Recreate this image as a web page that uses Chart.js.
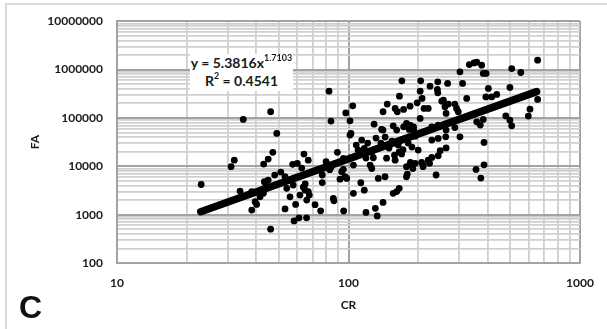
<!DOCTYPE html>
<html><head><meta charset="utf-8">
<script src="https://cdn.jsdelivr.net/npm/chart.js@4/dist/chart.umd.min.js"></script>
<style>
html,body{margin:0;padding:0;background:#fff;}
#wrap{position:relative;width:607px;height:329px;overflow:hidden;background:#fff;}
#frame{position:absolute;left:5px;top:3px;width:700px;height:400px;border-top:2px solid #dadada;border-left:2px solid #dadada;}
#cv{position:absolute;left:0;top:0;}
#eq{position:absolute;left:190px;top:54px;width:103px;height:37px;background:#fff;font-family:Lato,sans-serif;font-weight:bold;font-size:14px;line-height:18px;text-align:center;color:#1a1a1a;white-space:nowrap;}
#eq sup{font-size:9px;line-height:0;position:relative;top:-1px;}
#letter{position:absolute;left:19px;top:291px;font-family:"Liberation Sans",Arial,sans-serif;font-weight:bold;font-size:32px;line-height:32px;color:#111;}
</style></head>
<body>
<div id="wrap">
<div id="frame"></div>
<canvas id="cv" width="607" height="329"></canvas>
<div id="eq">y = 5.3816x<sup>1.7103</sup><br>R<sup>2</sup> = 0.4541</div>
<div id="letter">C</div>
</div>
<script>
// ---- data ----
const xAxisTitle = 'CR';
const yAxisTitle = 'FA';
const xTickValues = [10,20,30,40,50,60,70,80,90,100,200,300,400,500,600,700,800,900,1000];
const yTickValues = [100,200,300,400,500,600,700,800,900,
  1000,2000,3000,4000,5000,6000,7000,8000,9000,
  10000,20000,30000,40000,50000,60000,70000,80000,90000,
  100000,200000,300000,400000,500000,600000,700000,800000,900000,
  1000000,2000000,3000000,4000000,5000000,6000000,7000000,8000000,9000000,
  10000000];
const xTickLabels = ['10','100','1000'];
const yTickLabels = ['100','1000','10000','100000','1000000','10000000'];

const crValues = [35.1,46.1,49,47.1,45,43,32.1,31.1,57.4,60.1,64.2,67,62.8,23.1,34,38.2,38.2,40.1,41.5,42.9,
  43.6,45,46.1,53.2,55.9,54.1,58.2,61.1,65.9,59.1,61.7,57.7,53.2,65,71.7,75.8,66,67.7,67,63.8,
  65,77,77,86,86.5,95.3,91.9,96.6,98.3,93.5,95,105,113,117,119,130.6,133,141,134.5,143.8,
  126,124,156,161.5,165.6,178,179.5,178,187,194,210,224,239,355.6,385,373,385,128,146,159,
  165.6,172,169.6,185,189.6,207,210,221,229,244,249,264,229,244,303,82.4,84,97.3,104.3,101.5,
  102.5,332.6,303,311,324,268,243,225,242,243,205,204,208,212,221,253,257,270,288,293,
  298,170,166,147,141,159,162.5,173,184.5,198,204,129,139,141,156,161.5,173,178,184.5,191,
  183,191,229,244,264,288,656,348.5,358,376,382,393,507,555,402,392,415.6,437,498,656,
  608,598,478,498,507,358,371,382,89.5,101.5,108,95,117,261,264,263,110,114,121,126,
  131.5,138,144,149.6,154,164,172,181,194,188,119,158,200,80,84,88,83,43.3,39.5,48,
  51,105];
const faValues = [93000,134000,47800,19400,14100,11100,13400,9800,11000,11500,17900,13400,9200,4200,3070,3000,1240,1630,2340,2760,
  4560,5190,500,1310,2340,3500,740,860,860,1630,2540,4090,6070,4300,1610,1200,2000,2540,3000,3700,
  3200,4600,6600,2170,1930,1190,5400,6070,5600,7700,8600,2760,4560,3200,1110,1350,940,1790,5600,6070,
  9000,10600,2760,3000,3500,6070,6900,9800,10600,11500,10600,11500,6600,8600,10700,5700,31200,15000,14700,13400,
  19900,22000,18000,12000,9000,12000,9800,13400,15200,16500,21000,24000,34800,37700,40700,358000,85900,127000,178000,87000,
  47800,1270000,896000,516000,253000,516000,557000,454000,388000,330000,584000,358000,253000,157000,157000,222000,233000,193000,193000,157000,
  134000,584000,282000,193000,134000,157000,134000,150000,175000,205000,97600,74400,57800,56000,68700,56000,65500,77000,71000,65500,
  57800,57800,65500,71000,56000,63000,1560000,1370000,1420000,1230000,830000,830000,1050000,870000,407000,272000,272000,306000,427000,241000,
  152000,109000,110000,90000,68700,83000,71000,93000,19400,44100,27400,14600,23400,170000,124000,40700,21600,34800,30200,19600,
  38300,30200,40100,23800,33100,27400,36500,30200,42000,24900,14800,17000,21600,12500,9500,11500,8500,4800,1850,6580,
  7600,10600];

// power trendline end points
const trendCR = [23, 650];
const trendFA = [1150, 350000];

// ---- chart ----
const points = crValues.map((x, i) => ({x: x, y: faValues[i]}));
const trend = trendCR.map((x, i) => ({x: x, y: trendFA[i]}));

const isMajor = (labels, v) => labels.indexOf(String(v)) >= 0;
const tickFont = {family: 'Lato', weight: 'bold', size: 12};

new Chart(document.getElementById('cv'), {
  type: 'scatter',
  data: {
    datasets: [
      {label: 'trend', data: trend, showLine: true, borderColor: '#000', borderWidth: 7.5,
       borderCapStyle: 'round', pointRadius: 0, order: 0},
      {label: 'FA vs CR', data: points, backgroundColor: '#000', borderWidth: 0,
       pointRadius: 3.4, order: 1}
    ]
  },
  options: {
    responsive: false,
    animation: false,
    events: [],
    layout: {padding: {left: 0, right: 27, top: 21, bottom: 0}},
    plugins: {legend: {display: false}, tooltip: {enabled: false}},
    scales: {
      x: {
        type: 'logarithmic', min: 10, max: 1000,
        afterBuildTicks: s => { s.ticks = xTickValues.map(v => ({value: v, major: isMajor(xTickLabels, v)})); },
        afterFit: s => { s.height = 66; },
        grid: {
          drawTicks: false,
          color: c => (c.tick && isMajor(xTickLabels, c.tick.value)) ? '#a3a3a3' : '#d0d0d0',
          lineWidth: c => (c.tick && isMajor(xTickLabels, c.tick.value)) ? 2 : 1.8
        },
        border: {display: true, color: '#a3a3a3', width: 2},
        ticks: {
          autoSkip: false, maxRotation: 0, padding: 13, color: '#1a1a1a', font: tickFont,
          callback: v => isMajor(xTickLabels, v) ? String(v) : ''
        },
        title: {display: true, text: xAxisTitle, color: '#1a1a1a', font: tickFont,
                padding: {top: 0, bottom: 17}}
      },
      y: {
        type: 'logarithmic', min: 100, max: 10000000,
        afterBuildTicks: s => { s.ticks = yTickValues.map(v => ({value: v, major: isMajor(yTickLabels, v)})); },
        afterFit: s => { s.width = 117; },
        grid: {
          drawTicks: false,
          color: c => (c.tick && isMajor(yTickLabels, c.tick.value)) ? '#a3a3a3' : '#d0d0d0',
          lineWidth: c => (c.tick && isMajor(yTickLabels, c.tick.value)) ? 2 : 1.8
        },
        border: {display: true, color: '#a3a3a3', width: 2},
        ticks: {
          autoSkip: false, padding: 14, color: '#1a1a1a', font: tickFont,
          callback: v => isMajor(yTickLabels, v) ? String(v) : ''
        },
        title: {display: true, text: yAxisTitle, color: '#1a1a1a', font: tickFont,
                padding: {top: 28, bottom: 0}}
      }
    }
  }
});
</script>
</body></html>
